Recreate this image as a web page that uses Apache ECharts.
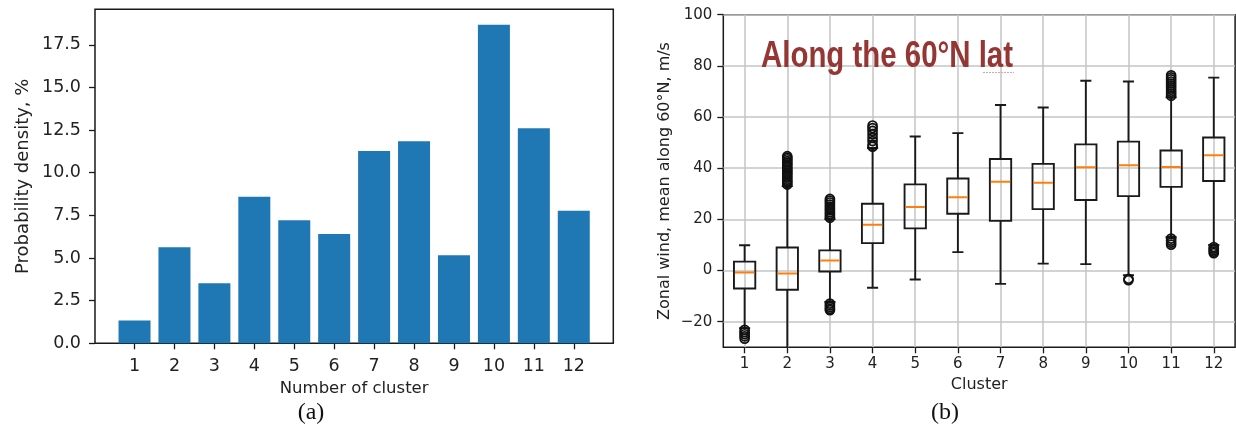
<!DOCTYPE html>
<html>
<head>
<meta charset="utf-8">
<script src="https://cdn.jsdelivr.net/npm/echarts@6/dist/echarts.min.js"></script>
<style>
html,body{margin:0;padding:0;background:#fff;}
#chart{width:1236px;height:435px;}
</style>
</head>
<body>
<div id="chart"></div>
<script>
// ---- data ----
const clusters = [1, 2, 3, 4, 5, 6, 7, 8, 9, 10, 11, 12];
const probDensity = [1.33, 5.63, 3.52, 8.59, 7.21, 6.41, 11.27, 11.84, 5.16, 18.68, 12.60, 7.77];
const probTicks = [0, 2.5, 5, 7.5, 10, 12.5, 15, 17.5];

const windMin    = [-22.5, -36.0, -12.3, -6.7, -3.5, 7.2, -5.2, 2.7, 2.5, -1.8, 13.0, 10.0];
const windQ1     = [-7.0, -7.5, -0.4, 10.7, 16.5, 22.2, 19.4, 24.0, 27.6, 29.1, 32.7, 35.0];
const windMedian = [-0.8, -1.2, 3.9, 17.9, 24.8, 28.6, 34.7, 34.3, 40.4, 41.2, 40.5, 45.1];
const windQ3     = [3.5, 9.0, 7.9, 26.1, 33.7, 36.0, 43.6, 41.7, 49.3, 50.4, 46.9, 52.0];
const windMax    = [9.9, 33.0, 20.1, 47.9, 52.4, 53.7, 64.7, 63.7, 74.2, 73.9, 67.7, 75.4];
const windTicks  = [-20, 0, 20, 40, 60, 80, 100];

const outliers1  = [-23.2, -24.1, -24.9, -25.7, -26.6];
const outliers2  = [33.6, 34.2, 34.9, 35.5, 36.3, 36.9, 37.6, 38.2, 38.9, 39.5, 40.2, 40.9, 41.5, 42.2, 42.8, 43.5, 44.1, 44.7];
const outliers3  = [20.6, 21.3, 22.1, 22.8, 23.6, 24.3, 25.0, 25.8, 26.6, 27.3, 28.0, -12.9, -13.6, -14.3, -15.0, -15.5];
const outliers4  = [48.4, 49.2, 50.6, 51.9, 53.3, 54.6, 55.7, 56.7];
const outliers10 = [-3.2, -3.8];
const outliers11 = [68.3, 69.1, 69.9, 70.7, 71.5, 72.3, 73.1, 73.9, 74.7, 75.5, 76.3, 10.1, 10.9, 11.7, 12.5];
const outliers12 = [6.8, 7.4, 8.0, 8.6, 9.2];

const outlierPoints = [];
[[1, outliers1], [2, outliers2], [3, outliers3], [4, outliers4], [10, outliers10], [11, outliers11], [12, outliers12]]
  .forEach(([c, arr]) => arr.forEach(v => outlierPoints.push([c, v])));

const boxData = clusters.map((c, i) => [c, windMin[i], windQ1[i], windMedian[i], windQ3[i], windMax[i]]);

const fmtMinus = v => (v < 0 ? '\u2212' + Math.abs(v) : String(v));

const chart = echarts.init(document.getElementById('chart'), null, {renderer: 'canvas'});

const tickFont = 'DejaVu Sans';
const axisColor = '#1a1a1a';

chart.setOption({
  animation: false,
  backgroundColor: '#fff',
  grid: [
    {left: 95, top: 9.3, width: 518.3, height: 334, show: true, borderColor: axisColor, borderWidth: 1.5, backgroundColor: 'transparent'},
    {left: 723.3, top: 14.7, width: 511.8, height: 332.6, show: true, borderColor: axisColor, borderWidth: 1.5, backgroundColor: 'transparent'}
  ],
  xAxis: [
    {
      gridIndex: 0, type: 'value', min: 0.01, max: 12.99,
      name: 'Number of cluster', nameLocation: 'middle', nameGap: 36,
      nameTextStyle: {fontFamily: tickFont, fontSize: 16.5, color: '#222'},
      axisLine: {show: false, onZero: false},
      axisTick: {show: true, length: 6, customValues: clusters, lineStyle: {color: axisColor, width: 1.3}},
      axisLabel: {customValues: clusters, margin: 14, fontFamily: tickFont, fontSize: 17.5, color: '#222'},
      splitLine: {show: false}
    },
    {
      gridIndex: 1, type: 'value', min: 0.5, max: 12.5,
      name: 'Cluster', nameLocation: 'middle', nameGap: 30,
      nameTextStyle: {fontFamily: tickFont, fontSize: 16, color: '#222'},
      axisLine: {show: false, onZero: false},
      axisTick: {show: true, length: 6, customValues: clusters, lineStyle: {color: axisColor, width: 1.3}},
      axisLabel: {customValues: clusters, margin: 9, fontFamily: tickFont, fontSize: 15, color: '#222'},
      splitLine: {show: true, lineStyle: {color: '#c4c4c4', width: 1.5}}
    }
  ],
  yAxis: [
    {
      gridIndex: 0, type: 'value', min: 0, max: 19.58,
      name: 'Probability density, %', nameLocation: 'middle', nameGap: 63, nameRotate: 90,
      nameTextStyle: {fontFamily: tickFont, fontSize: 18, color: '#222'},
      axisLine: {show: false, onZero: false},
      axisTick: {show: true, length: 6, customValues: probTicks, lineStyle: {color: axisColor, width: 1.3}},
      axisLabel: {customValues: probTicks, margin: 14, fontFamily: tickFont, fontSize: 17.5, color: '#222',
                  formatter: v => Number(v).toFixed(1)},
      splitLine: {show: false}
    },
    {
      gridIndex: 1, type: 'value', min: -30, max: 100,
      name: 'Zonal wind, mean along 60\u00b0N, m/s', nameLocation: 'middle', nameGap: 50, nameRotate: 90,
      nameTextStyle: {fontFamily: tickFont, fontSize: 16, color: '#222'},
      axisLine: {show: false, onZero: false},
      axisTick: {show: true, length: 6, customValues: windTicks, lineStyle: {color: axisColor, width: 1.3}},
      axisLabel: {customValues: windTicks, margin: 11, fontFamily: tickFont, fontSize: 15, color: '#222',
                  formatter: v => fmtMinus(v)},
      splitLine: {show: true, lineStyle: {color: '#c4c4c4', width: 1.5}}
    }
  ],
  graphic: [
    {type: 'text', x: 761, y: 57, scaleX: 0.817, originX: 0, originY: 0, z: 100,
     style: {text: 'Along the 60\u00b0N lat', font: 'bold 36px "Liberation Sans"', fill: '#963634', verticalAlign: 'middle'}},
    {type: 'line', z: 99, shape: {x1: 983, y1: 72.5, x2: 1014, y2: 72.5},
     style: {stroke: '#e8a0a0', lineWidth: 1.2, lineDash: [2, 1]}},
    {type: 'text', x: 311, y: 413, z: 100,
     style: {text: '(a)', font: '24px "Liberation Serif"', fill: '#111', align: 'center', verticalAlign: 'middle'}},
    {type: 'text', x: 945, y: 413, z: 100,
     style: {text: '(b)', font: '24px "Liberation Serif"', fill: '#111', align: 'center', verticalAlign: 'middle'}}
  ],
  series: [
    {
      type: 'bar', xAxisIndex: 0, yAxisIndex: 0,
      data: clusters.map((c, i) => [c, probDensity[i]]),
      barWidth: 32,
      itemStyle: {color: '#1f77b4'}
    },
    {
      type: 'custom', xAxisIndex: 1, yAxisIndex: 1, clip: true,
      data: boxData,
      renderItem: function (params, api) {
        const x = api.value(0);
        const vmin = api.value(1), q1 = api.value(2), med = api.value(3), q3 = api.value(4), vmax = api.value(5);
        const c = (xx, v) => api.coord([xx, v]);
        const L = c(x - 0.25, q1)[0], R = c(x + 0.25, q1)[0];
        const cL = c(x - 0.13, q1)[0], cR = c(x + 0.13, q1)[0];
        const xc = c(x, q1)[0];
        const yMin = c(x, vmin)[1], yQ1 = c(x, q1)[1], yMed = c(x, med)[1], yQ3 = c(x, q3)[1], yMax = c(x, vmax)[1];
        const ls = {stroke: '#1a1a1a', lineWidth: 1.9, fill: null};
        return {
          type: 'group',
          children: [
            {type: 'line', shape: {x1: xc, y1: yQ3, x2: xc, y2: yMax}, style: ls},
            {type: 'line', shape: {x1: xc, y1: yQ1, x2: xc, y2: yMin}, style: ls},
            {type: 'line', shape: {x1: cL, y1: yMax, x2: cR, y2: yMax}, style: ls},
            {type: 'line', shape: {x1: cL, y1: yMin, x2: cR, y2: yMin}, style: ls},
            {type: 'rect', shape: {x: L, y: yQ3, width: R - L, height: yQ1 - yQ3}, style: {stroke: '#1a1a1a', lineWidth: 1.9, fill: 'rgba(0,0,0,0)'}},
            {type: 'line', shape: {x1: L + 1, y1: yMed, x2: R - 1, y2: yMed}, style: {stroke: '#ff7f0e', lineWidth: 2}}
          ]
        };
      }
    },
    {
      type: 'scatter', xAxisIndex: 1, yAxisIndex: 1,
      data: outlierPoints,
      symbol: 'circle', symbolSize: 9,
      itemStyle: {color: 'rgba(0,0,0,0)', borderColor: '#111', borderWidth: 1.7, opacity: 1}
    }
  ]
});
</script>
</body>
</html>
